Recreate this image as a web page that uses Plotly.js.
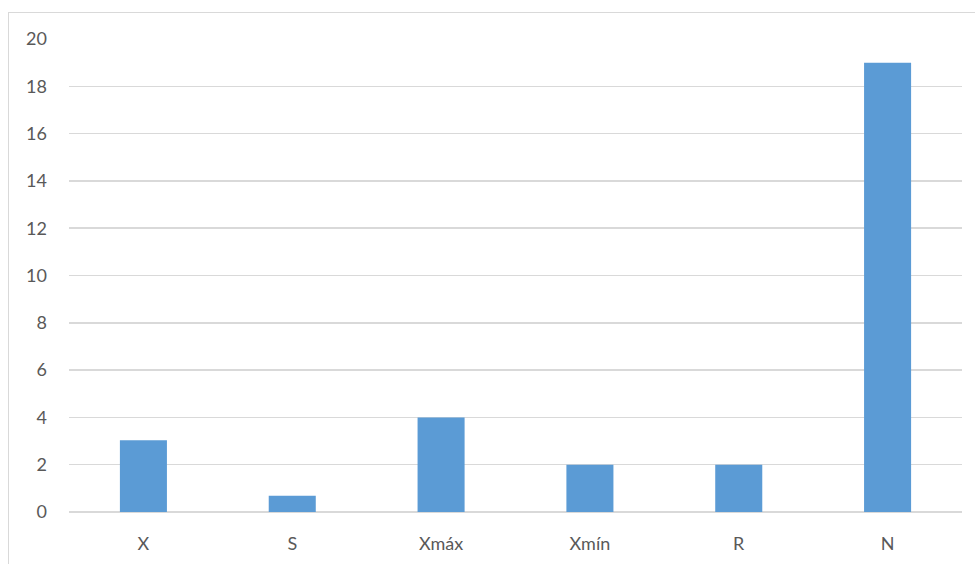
<!DOCTYPE html>
<html>
<head>
<meta charset="utf-8">
<script src="https://cdn.plot.ly/plotly-3.0.1.min.js"></script>
<style>
html,body{margin:0;padding:0;background:#fff;}
#frame{position:absolute;left:8px;top:12px;width:980px;height:560px;border:1.5px solid #d9d9d9;box-sizing:border-box;}
#chart{position:absolute;left:0;top:0;width:975px;height:564px;}
</style>
</head>
<body>
<div id="frame"></div>
<div id="chart"></div>
<script>
const categories = ["X", "S", "Xmáx", "Xmín", "R", "N"];
const values = [3.03, 0.69, 4, 2, 2, 19];
const yTicks = [0, 2, 4, 6, 8, 10, 12, 14, 16, 18, 20];

const trace = {
  type: "bar",
  x: categories,
  y: values,
  marker: {color: "#5b9bd5"},
  hoverinfo: "x+y"
};

const layout = {
  width: 975,
  height: 564,
  margin: {l: 69, r: 13, t: 39, b: 52},
  paper_bgcolor: "rgba(0,0,0,0)",
  plot_bgcolor: "rgba(0,0,0,0)",
  bargap: 0.684,
  showlegend: false,
  font: {family: "Lato, 'Open Sans', sans-serif", size: 18, color: "#595959"},
  xaxis: {
    type: "category",
    showgrid: false,
    zeroline: false,
    showline: false,
    ticks: "",
    ticklabelstandoff: 19,
    tickfont: {size: 18, color: "#595959"}
  },
  yaxis: {
    range: [0, 20],
    tickvals: yTicks,
    ticktext: yTicks.map(String),
    showgrid: true,
    gridcolor: "#d9d9d9",
    gridwidth: 1.5,
    zeroline: true,
    zerolinecolor: "#d9d9d9",
    zerolinewidth: 1.5,
    showline: false,
    ticks: "",
    ticklabelstandoff: 21,
    tickfont: {size: 18, color: "#595959"}
  }
};

Plotly.newPlot("chart", [trace], layout, {displayModeBar: false, staticPlot: true});
</script>
</body>
</html>
